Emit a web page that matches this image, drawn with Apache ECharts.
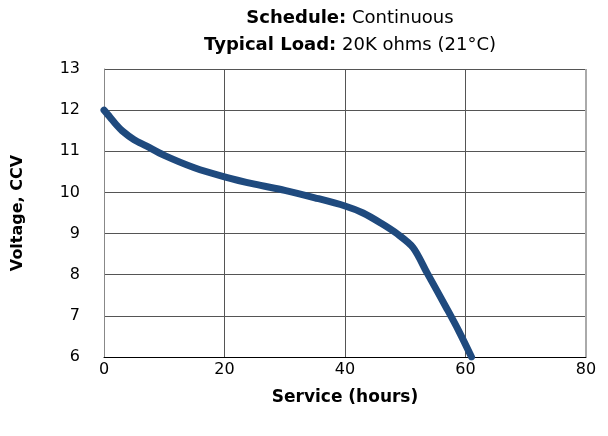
<!DOCTYPE html>
<html><head><meta charset="utf-8">
<script src="https://cdn.jsdelivr.net/npm/echarts@6/dist/echarts.min.js"></script>
<style>html,body{margin:0;padding:0;background:#fff}#c{width:608px;height:436px}</style>
</head><body><div id="c"></div>
<script>
const hours = [0, 1, 2, 3, 5, 7, 10, 15, 20, 25, 30, 35, 40, 43, 46, 48.6, 51.3, 53.6, 57, 59, 61];
const volts = [12.0, 11.83, 11.65, 11.5, 11.28, 11.13, 10.9, 10.6, 10.38, 10.2, 10.05, 9.87, 9.67, 9.5, 9.25, 9.0, 8.66, 8.05, 7.15, 6.6, 6.0];
const xTicks = [0, 20, 40, 60, 80];
const yTicks = [6, 7, 8, 9, 10, 11, 12, 13];
const FONT = 'DejaVu Sans';
const chart = echarts.init(document.getElementById('c'), null, {renderer: 'canvas'});
chart.setOption({
  animation: false,
  title: {
    text: '{b|Schedule:} {r|Continuous}\n{b|Typical Load:} {r|20K ohms (21°C)}',
    left: 345, top: 0, textAlign: 'center',
    textStyle: {
      fontWeight: 'normal', fontFamily: FONT, fontSize: 18, lineHeight: 27,
      rich: {
        b: {fontFamily: FONT, fontWeight: 'bold', fontSize: 18, color: '#000', lineHeight: 27},
        r: {fontFamily: FONT, fontWeight: 'normal', fontSize: 18, color: '#000', lineHeight: 27}
      }
    }
  },
  grid: {left: 104, right: 22, top: 69, bottom: 79},
  xAxis: {
    type: 'value', min: xTicks[0], max: xTicks[xTicks.length - 1], interval: 20,
    name: 'Service (hours)', nameLocation: 'middle', nameGap: 32,
    nameTextStyle: {fontFamily: FONT, fontWeight: 'bold', fontSize: 17, color: '#000'},
    axisLine: {show: true, lineStyle: {color: '#000', width: 1}},
    axisTick: {show: false},
    axisLabel: {fontFamily: FONT, fontSize: 16, color: '#000', margin: 5},
    splitLine: {show: true, lineStyle: {color: '#555', width: 1}}
  },
  yAxis: {
    type: 'value', min: yTicks[0], max: yTicks[yTicks.length - 1], interval: 1,
    name: 'Voltage, CCV', nameLocation: 'middle', nameGap: 78,
    nameTextStyle: {fontFamily: FONT, fontWeight: 'bold', fontSize: 16, color: '#000'},
    axisLine: {show: true, lineStyle: {color: '#888', width: 1}},
    axisTick: {show: false},
    axisLabel: {fontFamily: FONT, fontSize: 16, color: '#000', margin: 24},
    splitLine: {show: true, lineStyle: {color: '#555', width: 1}}
  },
  series: [{
    type: 'line',
    data: hours.map((h, i) => [h, volts[i]]),
    showSymbol: false, smooth: 0.3,
    lineStyle: {color: '#1F4A7E', width: 7, cap: 'round'}
  }, {
    type: 'line', data: [[80, 6], [80, 13]], showSymbol: false, silent: true,
    lineStyle: {color: '#aaa', width: 2}
  }]
});
</script></body></html>
